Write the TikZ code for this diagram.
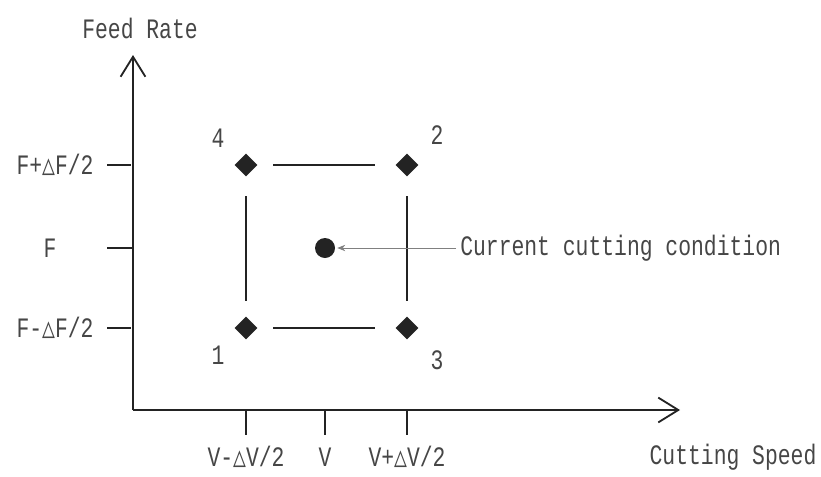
\documentclass[tikz,border=0pt]{standalone}
\usepackage{fontspec}
\usetikzlibrary{arrows.meta,shapes.geometric,positioning}
\newfontfamily\labfont[FakeStretch=0.76]{Liberation Mono}
\newfontfamily\trifont[FakeStretch=0.76]{DejaVu Sans Mono}
\newcommand{\dlt}{{\trifont △}}
\definecolor{ScanInk}{RGB}{35,35,35}
\definecolor{TextInk}{RGB}{70,70,70}

\begin{document}
\begin{tikzpicture}[x=0.025cm,y=0.025cm,
    lab/.style={text=TextInk,font=\labfont\fontsize{20}{22}\selectfont,inner sep=0pt},
    runpt/.style={diamond,fill=ScanInk,inner sep=0pt,minimum size=0.58cm},
    curpt/.style={circle,fill=ScanInk,inner sep=0pt,minimum size=0.5cm},
    axis/.style={line width=1.3pt,ScanInk,-{Straight Barb[length=0.5cm,width=0.62cm,line width=1.3pt]}},
    tick/.style={line width=1pt,ScanInk},
    edge/.style={line width=1pt,ScanInk,shorten <=0.38cm,shorten >=0.5cm},
    vedge/.style={line width=1pt,ScanInk,shorten <=0.48cm,shorten >=0.38cm}]
  \useasboundingbox (0,0) rectangle (821,476);
  % axes
  \coordinate (o) at (133,66);
  \coordinate (ytip) at (133,421);
  \coordinate (xtip) at (680,66);
  \draw[axis] (o) -- (ytip);
  \draw[axis] (o) -- (xtip);
  \node[lab] (ylab) at (140,448) {Feed Rate};
  \node[lab] (xlab) at (733,19) {Cutting Speed};
  % run points
  \node[runpt] (p4) at (246,311) {};
  \node[runpt] (p2) at (407,311) {};
  \node[runpt] (p1) at (246,148) {};
  \node[runpt] (p3) at (407,148) {};
  \node[curpt] (cur) at (325,228) {};
  \node[lab] at (218,338) {4};
  \node[lab] at (437,341) {2};
  \node[lab] at (218,121) {1};
  \node[lab] at (437,116) {3};
  \draw[edge] (p4) -- (p2);
  \draw[edge] (p1) -- (p3);
  \draw[vedge] (p4) -- (p1);
  \draw[vedge] (p2) -- (p3);
  % label for the centre point
  \node[lab,anchor=west] (cond) at (460,228) {Current cutting condition};
  \draw[line width=0.5pt,gray,-{Stealth[length=0.2cm,width=0.16cm]},shorten <=0.1cm,shorten >=0.05cm]
    (cond.west) -- (cur.east);
  % ticks on feed rate
  \draw[tick] (107,311) -- (131,311);
  \draw[tick] (107,228) -- (133,228);
  \draw[tick] (107,148) -- (131,148);
  \node[lab] at (55,311) {F+\dlt F/2};
  \node[lab] at (50,228) {F};
  \node[lab] at (55,148) {F-\dlt F/2};
  % ticks on cutting speed
  \foreach \xx/\txt in {246/{V-\dlt V/2},325/{V},407/{V+\dlt V/2}}{
    \draw[tick] (\xx,66) -- (\xx,41);
    \node[lab] at (\xx,19) {\txt};
  }
\end{tikzpicture}
\end{document}
